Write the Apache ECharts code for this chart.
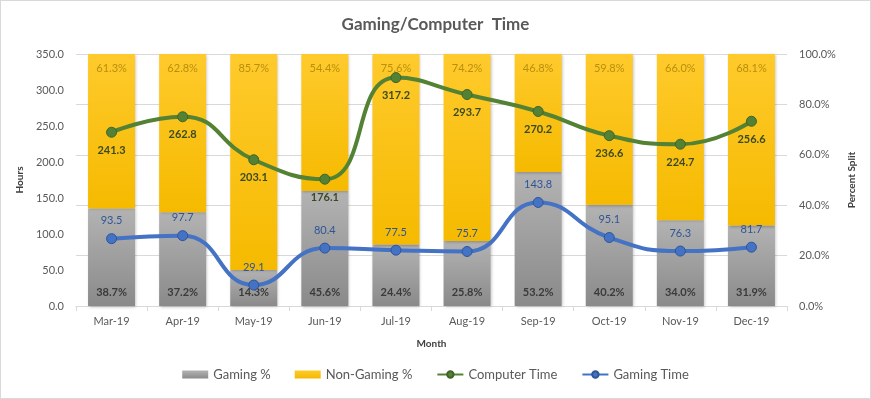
<!DOCTYPE html>
<html>
<head>
<meta charset="utf-8">
<script src="https://cdn.jsdelivr.net/npm/echarts/dist/echarts.min.js"></script>
<style>
  html, body { margin: 0; padding: 0; background: #fff; }
  #chart { width: 871px; height: 399px; box-sizing: border-box; border: 1px solid #d9d9d9; }
</style>
</head>
<body>
<div id="chart"></div>
<script>
// data
const months = ['Mar-19', 'Apr-19', 'May-19', 'Jun-19', 'Jul-19', 'Aug-19', 'Sep-19', 'Oct-19', 'Nov-19', 'Dec-19']
const gamingPct = [38.7, 37.2, 14.3, 45.6, 24.4, 25.8, 53.2, 40.2, 34.0, 31.9]
const nonGamingPct = [61.3, 62.8, 85.7, 54.4, 75.6, 74.2, 46.8, 59.8, 66.0, 68.1]
const computerTime = [241.3, 262.8, 203.1, 176.1, 317.2, 293.7, 270.2, 236.6, 224.7, 256.6]
const gamingTime = [93.5, 97.7, 29.1, 80.4, 77.5, 75.7, 143.8, 95.1, 76.3, 81.7]

const font = 'Lato, "Open Sans", sans-serif'

const chart = echarts.init(document.getElementById('chart'))

const barShadow = {
  shadowBlur: 3,
  shadowColor: 'rgba(0,0,0,0.25)',
  shadowOffsetX: 1,
  shadowOffsetY: 1
}

chart.setOption({
  animation: false,
  textStyle: { fontFamily: font },
  title: {
    text: 'Gaming/Computer  Time',
    left: 'center',
    top: 10,
    textStyle: { fontSize: 17, fontWeight: 'bold', color: '#595959', fontFamily: font }
  },
  grid: {
    left: 75,
    right: 83,
    top: 53,
    bottom: 92
  },
  legend: {
    bottom: 12,
    left: 'center',
    itemWidth: 26,
    itemHeight: 8,
    itemGap: 24,
    textStyle: { fontSize: 13, color: '#595959', fontFamily: font },
    data: [
      { name: 'Gaming %', icon: 'rect' },
      { name: 'Non-Gaming %', icon: 'rect' },
      { name: 'Computer Time' },
      { name: 'Gaming Time' }
    ]
  },
  xAxis: {
    type: 'category',
    data: months,
    name: 'Month',
    nameLocation: 'middle',
    nameGap: 33,
    nameTextStyle: { fontSize: 10, fontWeight: 'bold', color: '#404040' },
    axisLine: { lineStyle: { color: '#d9d9d9' } },
    axisTick: { show: true, length: 5, lineStyle: { color: '#d9d9d9' } },
    axisLabel: { color: '#595959', fontSize: 11, margin: 10 }
  },
  yAxis: [
    {
      type: 'value',
      min: 0,
      max: 350,
      interval: 50,
      name: 'Hours',
      nameLocation: 'middle',
      nameGap: 48,
      nameTextStyle: { fontSize: 10, fontWeight: 'bold', color: '#404040' },
      axisLine: { show: false },
      axisTick: { show: false },
      splitLine: { show: false },
      axisLabel: {
        color: '#595959',
        fontSize: 11,
        margin: 12,
        formatter: v => v.toFixed(1)
      }
    },
    {
      type: 'value',
      min: 0,
      max: 100,
      interval: 20,
      name: 'Percent Split',
      nameLocation: 'middle',
      nameGap: 34,
      nameTextStyle: { fontSize: 10, fontWeight: 'bold', color: '#404040' },
      axisLine: { show: false },
      axisTick: { show: false },
      splitLine: { show: true, lineStyle: { color: '#d9d9d9' } },
      axisLabel: {
        color: '#595959',
        fontSize: 11,
        margin: 12,
        formatter: v => v.toFixed(1) + '%'
      }
    }
  ],
  series: [
    {
      name: 'Gaming %',
      type: 'bar',
      stack: 'split',
      yAxisIndex: 1,
      barWidth: 47,
      data: gamingPct,
      itemStyle: Object.assign({
        color: new echarts.graphic.LinearGradient(0, 0, 0, 1, [
          { offset: 0, color: '#b3b3b3' },
          { offset: 1, color: '#8a8a8a' }
        ])
      }, barShadow),
      label: {
        show: true,
        position: 'insideBottom',
        distance: 8,
        fontSize: 11,
        fontWeight: 'bold',
        color: '#3a3a3a',
        formatter: p => p.value.toFixed(1) + '%'
      }
    },
    {
      name: 'Non-Gaming %',
      type: 'bar',
      stack: 'split',
      yAxisIndex: 1,
      barWidth: 47,
      data: nonGamingPct,
      itemStyle: Object.assign({
        color: new echarts.graphic.LinearGradient(0, 0, 0, 1, [
          { offset: 0, color: '#ffca2c' },
          { offset: 1, color: '#f5ba00' }
        ])
      }, barShadow),
      label: {
        show: true,
        position: 'insideTop',
        distance: 9,
        fontSize: 11,
        color: '#b8900e',
        formatter: p => p.value.toFixed(1) + '%'
      }
    },
    {
      name: 'Computer Time',
      type: 'line',
      yAxisIndex: 0,
      data: computerTime,
      smooth: true,
      symbol: 'circle',
      symbolSize: 10,
      z: 5,
      lineStyle: { color: '#548235', width: 4 },
      itemStyle: { color: '#548235', borderColor: '#3f6428', borderWidth: 1 },
      label: {
        show: true,
        position: 'bottom',
        distance: 7,
        fontSize: 11,
        fontWeight: 'bold',
        color: '#3b4a22',
        formatter: p => p.value.toFixed(1)
      }
    },
    {
      name: 'Gaming Time',
      type: 'line',
      yAxisIndex: 0,
      data: gamingTime,
      smooth: true,
      symbol: 'circle',
      symbolSize: 10,
      z: 5,
      lineStyle: { color: '#4472c4', width: 4 },
      itemStyle: { color: '#4472c4', borderColor: '#2f5597', borderWidth: 1 },
      label: {
        show: true,
        position: 'top',
        distance: 7,
        fontSize: 11,
        color: '#2f5597',
        formatter: p => p.value.toFixed(1)
      }
    }
  ]
})
</script>
</body>
</html>
